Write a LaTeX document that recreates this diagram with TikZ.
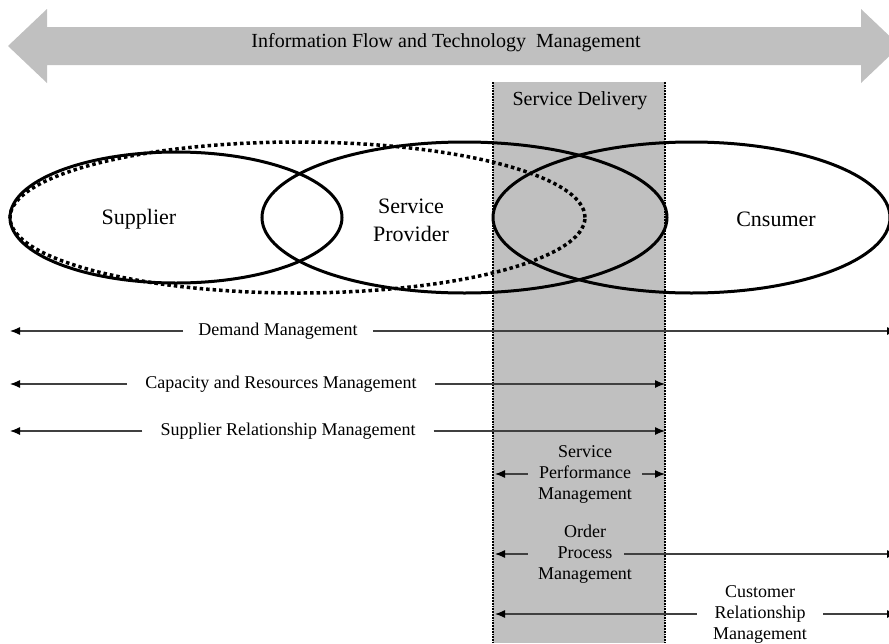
\documentclass[tikz,border=0pt]{standalone}
\usepackage{fontspec}
\setmainfont{Liberation Serif}
\usetikzlibrary{shapes.geometric,arrows.meta}
\definecolor{bandgrey}{HTML}{C0C0C0}
\definecolor{linegrey}{HTML}{404040}

\begin{document}
\begin{tikzpicture}[x=1pt,y=-1pt,
  ring/.style={ellipse, draw=black, line width=3pt, inner sep=0pt},
  scopering/.style={ellipse, draw=black, line width=3.5pt, inner sep=0pt, dash pattern=on 3.5pt off 3pt},
  bigtext/.style={font=\fontsize{22}{28}\selectfont, align=center, inner sep=0pt},
  headtext/.style={font=\fontsize{20}{24}\selectfont, inner sep=0pt},
  smalltext/.style={font=\fontsize{18}{21}\selectfont, align=center, inner ysep=0pt},
  flow/.style={draw=linegrey, line width=1.2pt, -{Latex[length=10pt,width=8pt,color=black]}},
  edge/.style={draw=black, line width=1.8pt, densely dotted},
]
\useasboundingbox (0,0) rectangle (889,643);

% Service delivery band
\fill[bandgrey] (493,82) rectangle (665,643);
\draw[edge] (493,82) -- (493,643);
\draw[edge] (665,82) -- (665,643);
\node[headtext] (sd) at (580,101) {Service Delivery};

% double-headed information flow arrow
\fill[bandgrey] (8,46) -- (47,9) -- (47,27) -- (861,27) -- (861,9) -- (900,46)
  -- (861,83) -- (861,65) -- (47,65) -- (47,83) -- cycle;
\node[headtext] (info) at (446,43) {Information Flow and Technology\ \ Management};

% party ellipses
\node[ring, minimum width=332pt, minimum height=131pt] (supE) at (176,217.5) {};
\node[ring, minimum width=405pt, minimum height=151pt] (provE) at (464.5,217.5) {};
\node[ring, minimum width=397pt, minimum height=151pt] (consE) at (691.5,217.5) {};
\node[scopering, minimum width=575pt, minimum height=151pt] (scopeE) at (297.5,217.5) {};

\node[bigtext] (sup) at (139,219) {Supplier};
\node[bigtext] (prov) at (411,220) {Service\\Provider};
\node[bigtext] (cons) at (776,219) {Cnsumer};

% management processes
\coordinate (dmL) at (10,331);  \coordinate (dmR) at (897,331);
\coordinate (crL) at (10,384);  \coordinate (crR) at (665,384);
\coordinate (srL) at (10,431);  \coordinate (srR) at (665,431);
\coordinate (spL) at (495,474); \coordinate (spR) at (665,474);
\coordinate (opL) at (495,554); \coordinate (opR) at (897,554);
\coordinate (cuL) at (495,614); \coordinate (cuR) at (897,614);

\node[smalltext, inner xsep=15pt] (dm) at (278,331) {Demand Management};
\node[smalltext, inner xsep=18pt] (cr) at (281,384) {Capacity and Resources Management};
\node[smalltext, inner xsep=18pt] (sr) at (288,431) {Supplier Relationship Management};
\node[smalltext, inner xsep=10pt] (sp) at (585,474) {Service\\Performance\\Management};
\node[smalltext, inner xsep=10pt] (op) at (585,554) {Order\\Process\\Management};
\node[smalltext, inner xsep=16pt] (cu) at (760,614) {Customer\\Relationship\\Management};

\draw[flow] (dm.west) -- (dmL);
\draw[flow] (dm.east) -- (dmR);
\draw[flow] (cr.west) -- (crL);
\draw[flow] (cr.east) -- (crR);
\draw[flow] (sr.west) -- (srL);
\draw[flow] (sr.east) -- (srR);
\draw[flow] (sp.west) -- (spL);
\draw[flow] (sp.east) -- (spR);
\draw[flow] (op.west) -- (opL);
\draw[flow, shorten <=-18pt] (op.east) -- (opR);
\draw[flow] (cu.west) -- (cuL);
\draw[flow] (cu.east) -- (cuR);
\end{tikzpicture}
\end{document}
